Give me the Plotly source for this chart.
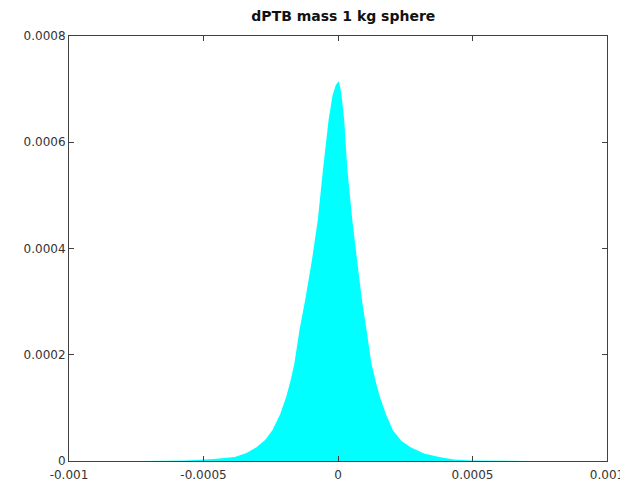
import plotly.graph_objects as go

# density curve (x in kg offset, y density)
mass_dev = [-0.000732, -0.000567, -0.000460, -0.000384, -0.000340, -0.000303,
            -0.000270, -0.000244, -0.000215, -0.000193, -0.000176, -0.000162,
            -0.000143, -0.000122, -0.000097, -0.000075, -0.000056, -0.000035,
            -0.000020, -0.000008, 0.000002, 0.000008, 0.000013, 0.000023,
            0.000035, 0.000053, 0.000071, 0.000089, 0.000106, 0.000124,
            0.000140, 0.000156, 0.000180, 0.000204, 0.000235, 0.000270,
            0.000320, 0.000376, 0.000430, 0.000497, 0.000717]
density = [0.0, 0.000001, 0.000004, 0.0000075, 0.000015, 0.000026,
           0.000040, 0.000058, 0.000088, 0.000120, 0.000152, 0.000184,
           0.000247, 0.000303, 0.000378, 0.000454, 0.000548, 0.000642,
           0.000689, 0.000708, 0.000715, 0.000705, 0.000689, 0.000642,
           0.000548, 0.000454, 0.000378, 0.000303, 0.000247, 0.000184,
           0.000150, 0.000120, 0.000086, 0.000058, 0.000038, 0.000026,
           0.000014, 0.0000075, 0.000003, 0.000001, 0.0]

x_ticks = [-0.001, -0.0005, 0, 0.0005, 0.001]
x_labels = ['-0.001', '-0.0005', '0', '0.0005', '0.001']
y_ticks = [0, 0.0002, 0.0004, 0.0006, 0.0008]
y_labels = ['0', '0.0002', '0.0004', '0.0006', '0.0008']

trace = go.Scatter(x=mass_dev, y=density,
                   mode='lines', line=dict(width=0, color='#00ffff'),
                   fill='tozeroy', fillcolor='#00ffff',
                   showlegend=False)

axis_style = dict(showgrid=False, zeroline=False, showline=True,
                  linecolor='#404040', linewidth=1, mirror='allticks',
                  ticks='inside', ticklen=5, tickcolor='#404040',
                  tickfont=dict(family='DejaVu Sans', size=12, color='#333333'))

layout = go.Layout(
    title=dict(text='<b>dPTB mass 1 kg sphere</b>', x=0.534, xanchor='center',
               yref='container', y=0.984, yanchor='middle',
               font=dict(family='DejaVu Sans', size=14, color='#111111')),
    width=628, height=486,
    margin=dict(l=61, r=20, t=28, b=33),
    paper_bgcolor='white', plot_bgcolor='white',
    xaxis=dict(range=[-0.001, 0.001], tickvals=x_ticks, ticktext=x_labels,
               ticklabelstandoff=3, **axis_style),
    yaxis=dict(range=[0, 0.0008], tickvals=y_ticks, ticktext=y_labels, **axis_style),
)

fig = go.Figure(data=[trace], layout=layout)
fig.write_html("out.html")
